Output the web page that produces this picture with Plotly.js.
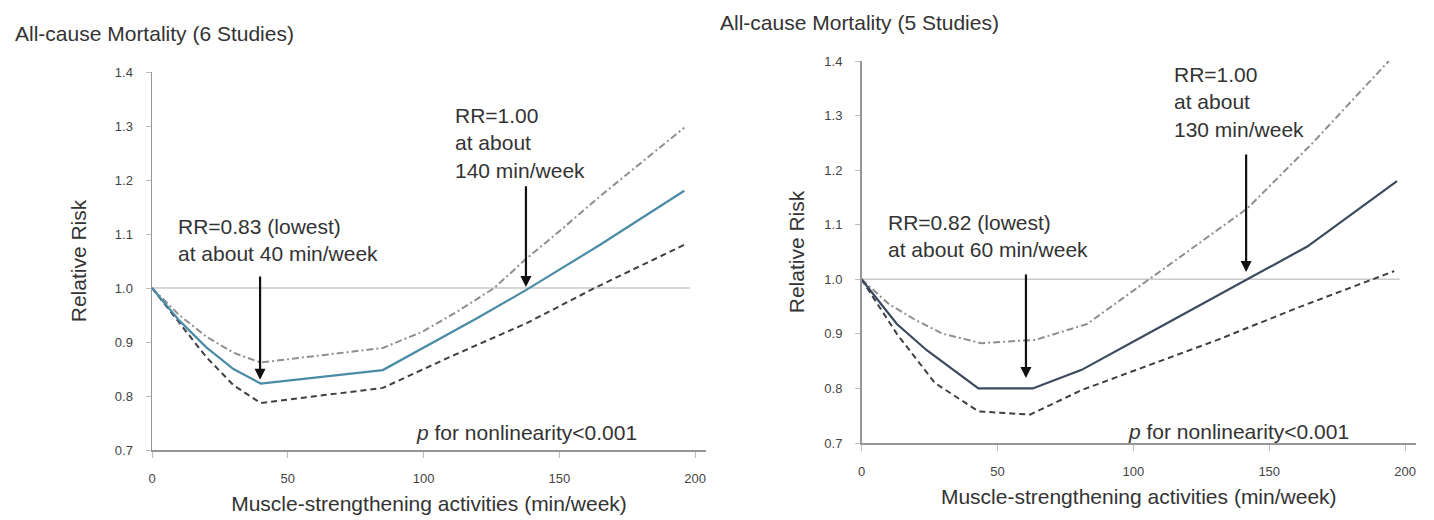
<!DOCTYPE html>
<html>
<head>
<meta charset="utf-8">
<script src="https://cdn.plot.ly/plotly-3.0.1.min.js"></script>
<style>
html,body{margin:0;padding:0;background:#fff;}
#chart{width:1434px;height:520px;}
</style>
</head>
<body>
<div id="chart"></div>
<script>
// ---- Data: left panel (6 studies) ----
const leftSolidX = [0, 10, 20, 30, 40, 85, 120, 138, 165, 196];
const leftSolidY = [1.0, 0.94, 0.89, 0.85, 0.823, 0.848, 0.945, 0.997, 1.08, 1.18];
const leftUpperX = [0, 10, 20, 30, 40, 85, 100, 112, 126, 138, 150, 165, 196];
const leftUpperY = [1.0, 0.95, 0.91, 0.88, 0.862, 0.889, 0.92, 0.955, 1.0, 1.055, 1.105, 1.17, 1.297];
const leftLowerX = [0, 10, 20, 30, 40, 85, 110, 138, 163, 196];
const leftLowerY = [1.0, 0.935, 0.872, 0.82, 0.787, 0.815, 0.873, 0.935, 1.0, 1.08];

// ---- Data: right panel (5 studies) ----
const rightSolidX = [0, 13, 24, 43, 63, 81, 110, 142, 164, 197];
const rightSolidY = [1.0, 0.918, 0.87, 0.8, 0.8, 0.834, 0.913, 1.0, 1.06, 1.18];
const rightUpperX = [0, 10, 20, 30, 44, 64, 83, 106, 142, 166, 194];
const rightUpperY = [1.0, 0.955, 0.925, 0.9, 0.883, 0.889, 0.918, 1.0, 1.13, 1.25, 1.40];
const rightLowerX = [0, 13, 27, 43, 62, 81, 131, 160, 196];
const rightLowerY = [1.0, 0.9, 0.81, 0.758, 0.752, 0.797, 0.889, 0.947, 1.015];

// reference line RR = 1
const refX = [0, 198];
const refY = [1.0, 1.0];

// tick values
const xTicks = [0, 50, 100, 150, 200];
const yTicks = [0.7, 0.8, 0.9, 1.0, 1.1, 1.2, 1.3, 1.4];

// titles and texts
const panelTitles = ["All-cause Mortality (6 Studies)", "All-cause Mortality (5 Studies)"];
const xTitle = "Muscle-strengthening activities (min/week)";
const yTitle = "Relative Risk";
const pText = "<i>p</i> for nonlinearity<0.001";
const leftNotes = ["RR=0.83 (lowest)<br>at about 40 min/week", "RR=1.00<br>at about<br>140 min/week"];
const rightNotes = ["RR=0.82 (lowest)<br>at about 60 min/week", "RR=1.00<br>at about<br>130 min/week"];
// note anchor positions (data coords): note 1, note 2, p-value note
const leftNoteX = [9, 111, 96.5];
const leftNoteY = [1.089, 1.2685, 0.7315];
const rightNoteX = [9, 114.3, 97.3];
const rightNoteY = [1.079, 1.325, 0.7207];
// arrows: x, start (top), tip
const leftArrowX = [39.8, 137.7];
const leftArrowTop = [1.024, 1.191];
const leftArrowTip = [0.830, 1.002];
const rightArrowX = [60.5, 141.5];
const rightArrowTop = [1.0115, 1.2314];
const rightArrowTip = [0.819, 1.0133];

const FONT = "Liberation Sans, Arial, sans-serif";
const TXT = "#333333";

const traces = [
  {x: refX, y: refY, xaxis: 'x', yaxis: 'y', mode: 'lines', line: {color: '#c9c9c9', width: 1.6}, hoverinfo: 'skip'},
  {x: leftUpperX, y: leftUpperY, xaxis: 'x', yaxis: 'y', mode: 'lines', line: {color: '#8f8f8f', width: 2, dash: '7px,3px,2px,3px'}},
  {x: leftLowerX, y: leftLowerY, xaxis: 'x', yaxis: 'y', mode: 'lines', line: {color: '#3f3f46', width: 2, dash: '6px,4px'}},
  {x: leftSolidX, y: leftSolidY, xaxis: 'x', yaxis: 'y', mode: 'lines', line: {color: '#4a8ca6', width: 2.2}},
  {x: refX, y: refY, xaxis: 'x2', yaxis: 'y2', mode: 'lines', line: {color: '#c9c9c9', width: 1.6}, hoverinfo: 'skip'},
  {x: rightUpperX, y: rightUpperY, xaxis: 'x2', yaxis: 'y2', mode: 'lines', line: {color: '#8f8f8f', width: 2, dash: '7px,3px,2px,3px'}},
  {x: rightLowerX, y: rightLowerY, xaxis: 'x2', yaxis: 'y2', mode: 'lines', line: {color: '#3f3f46', width: 2, dash: '6px,4px'}},
  {x: rightSolidX, y: rightSolidY, xaxis: 'x2', yaxis: 'y2', mode: 'lines', line: {color: '#3b4a5e', width: 2.2}}
];

function xAxis(domain, anchor) {
  return {
    domain: domain, anchor: anchor, range: [0, 204], tickvals: xTicks,
    showgrid: false, zeroline: false, showline: true, linecolor: '#969696', linewidth: 1.5,
    ticks: 'outside', ticklen: 6, tickcolor: '#bdbdbd', tickwidth: 1, ticklabelstandoff: 10,
    tickfont: {family: FONT, size: 13, color: '#444'},
    title: {text: xTitle, font: {family: FONT, size: 21, color: TXT}, standoff: 11}
  };
}
function yAxis(domain, anchor, standoff) {
  return {
    domain: domain, anchor: anchor, range: [0.7, 1.4], tickvals: yTicks, tickformat: '.1f',
    showgrid: false, zeroline: false, showline: true, linecolor: '#969696', linewidth: 1.5,
    ticks: 'outside', ticklen: 5, tickcolor: '#bdbdbd', tickwidth: 1, ticklabelstandoff: 10,
    tickfont: {family: FONT, size: 13, color: '#444'},
    title: {text: yTitle, font: {family: FONT, size: 21, color: TXT}, standoff: standoff}
  };
}

const annotations = [];
function addNotes(notes, nx, ny, xr, yr) {
  for (let i = 0; i < notes.length; i++) {
    annotations.push({x: nx[i], y: ny[i], xref: xr, yref: yr, text: notes[i], showarrow: false,
      xanchor: 'left', yanchor: 'middle', align: 'left', font: {family: FONT, size: 21, color: TXT}});
  }
  annotations.push({x: nx[2], y: ny[2], xref: xr, yref: yr, text: pText, showarrow: false,
    xanchor: 'left', yanchor: 'middle', align: 'left', font: {family: FONT, size: 21, color: TXT}});
}
function addArrows(ax, top, tip, xr, yr) {
  for (let i = 0; i < ax.length; i++) {
    annotations.push({x: ax[i], y: tip[i], ax: ax[i], ay: top[i], xref: xr, yref: yr, axref: xr, ayref: yr,
      text: '', showarrow: true, arrowhead: 2, arrowsize: 1, arrowwidth: 2.2, arrowcolor: '#111'});
  }
}
addNotes(leftNotes, leftNoteX, leftNoteY, 'x', 'y');
addNotes(rightNotes, rightNoteX, rightNoteY, 'x2', 'y2');
addArrows(leftArrowX, leftArrowTop, leftArrowTip, 'x', 'y');
addArrows(rightArrowX, rightArrowTop, rightArrowTip, 'x2', 'y2');

annotations.push({x: 13/1434, y: 1 - 33/520, xref: 'paper', yref: 'paper', text: panelTitles[0], showarrow: false,
  xanchor: 'left', yanchor: 'middle', font: {family: FONT, size: 21, color: TXT}});
annotations.push({x: 718/1434, y: 1 - 23/520, xref: 'paper', yref: 'paper', text: panelTitles[1], showarrow: false,
  xanchor: 'left', yanchor: 'middle', font: {family: FONT, size: 21, color: TXT}});

const layout = {
  width: 1434, height: 520,
  margin: {l: 0, r: 0, t: 0, b: 0},
  paper_bgcolor: '#ffffff', plot_bgcolor: '#ffffff',
  showlegend: false,
  xaxis: xAxis([152/1434, 706/1434], 'y'),
  yaxis: yAxis([1 - 450/520, 1 - 72/520], 'x', 22),
  xaxis2: xAxis([861.5/1434, 1416/1434], 'y2'),
  yaxis2: yAxis([1 - 443/520, 1 - 61/520], 'x2', 14),
  annotations: annotations,
  font: {family: FONT, color: TXT}
};

Plotly.newPlot('chart', traces, layout, {displayModeBar: false, staticPlot: true});
</script>
</body>
</html>
